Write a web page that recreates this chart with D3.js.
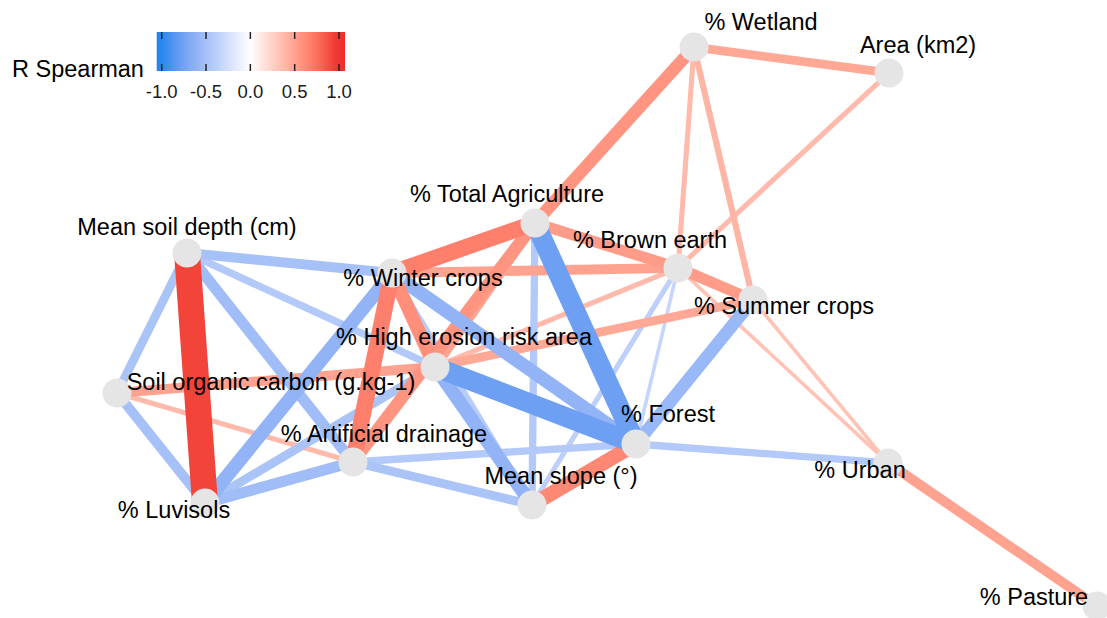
<!DOCTYPE html>
<html><head><meta charset="utf-8">
<script src="https://cdn.jsdelivr.net/npm/d3@7"></script>
<style>html,body{margin:0;padding:0;background:#fff;} svg{display:block;}</style>
</head><body>
<script>
// ---- data ----
const nodeNames = ["% Wetland","Area (km2)","% Total Agriculture","% Brown earth","% Summer crops",
  "Mean soil depth (cm)","% Winter crops","% High erosion risk area","Soil organic carbon (g.kg-1)",
  "% Forest","% Artificial drainage","Mean slope (°)","% Urban","% Luvisols","% Pasture"];
// layout coordinates (MDS dims)
const nodeDim1 = [0.188,0.578,-0.130,0.156,0.306,-0.826,-0.416,-0.330,-0.966,0.072,-0.494,-0.136,0.576,-0.790,0.994];
const nodeDim2 = [0.843,0.757,0.257,0.107,0.000,0.157,0.090,-0.223,-0.310,-0.480,-0.540,-0.683,-0.543,-0.677,-1.020];

const edgeFrom = ["% Wetland","% Wetland","% Wetland","% Wetland","Area (km2)",
 "% Total Agriculture","% Total Agriculture","% Brown earth","% Winter crops","% High erosion risk area",
 "% High erosion risk area","Soil organic carbon (g.kg-1)","Soil organic carbon (g.kg-1)","% Total Agriculture","% Total Agriculture",
 "% Total Agriculture","% Total Agriculture","Mean soil depth (cm)","Mean soil depth (cm)","Mean soil depth (cm)",
 "Mean soil depth (cm)","Mean soil depth (cm)","Soil organic carbon (g.kg-1)","% Luvisols","% Luvisols",
 "% Luvisols","% Artificial drainage","% Artificial drainage","% High erosion risk area","% High erosion risk area",
 "% Winter crops","% Winter crops","% Winter crops","% Winter crops","% Forest",
 "Mean slope (°)","% Forest","% Forest","% Forest","% Brown earth","% Summer crops","% Urban"];
const edgeTo = ["Area (km2)","% Total Agriculture","% Brown earth","% Summer crops","% Brown earth",
 "% Winter crops","% Brown earth","% Summer crops","% Brown earth","% Summer crops",
 "% Brown earth","% High erosion risk area","% Artificial drainage","% Forest","Mean slope (°)",
 "% High erosion risk area","% Artificial drainage","% Luvisols","% Winter crops","% High erosion risk area",
 "Soil organic carbon (g.kg-1)","% Artificial drainage","% Luvisols","% Winter crops","% High erosion risk area",
 "% Artificial drainage","Mean slope (°)","% Forest","% Forest","Mean slope (°)",
 "% Forest","Mean slope (°)","% High erosion risk area","% Artificial drainage","% Brown earth",
 "% Brown earth","% Summer crops","Mean slope (°)","% Urban","% Urban","% Urban","% Pasture"];
const edgeR = [0.47,0.57,0.37,0.40,0.37,
 0.67,0.53,0.53,0.50,0.47,
 0.37,0.50,0.37,-0.77,-0.43,
 0.50,0.57,0.93,-0.50,-0.43,
 -0.47,-0.53,-0.50,-0.60,-0.47,
 -0.53,-0.47,-0.43,-0.77,-0.60,
 -0.60,-0.40,0.60,0.67,-0.33,
 -0.37,-0.57,0.63,-0.43,0.33,0.33,0.50];

const legendTicks = [-1,-0.5,0,0.5,1];
const legendTickLabels = ["-1.0","-0.5","0.0","0.5","1.0"];
const legendTitle = "R Spearman";

// label offsets (layout of repelled labels, px)
const labelDx = [67,29,-28,-28,31,0,31,29,154,32,31,29,-28,-31,-63];
const labelDy = [-25,-28,-29,-28,6,-26,5,-30,-11,-30,-28,-29,7,7,-9];

// ---- drawing ----
const W = 1107, H = 618;
const FONT = "'Liberation Sans', Arial, sans-serif";
const svg = d3.select("body").append("svg").attr("width",W).attr("height",H);
const x = d3.scaleLinear().domain([-1,1]).range([100,1100]);
const y = d3.scaleLinear().domain([-1,1]).range([600,0]);
const color = d3.scaleLinear().domain([-1,0,1]).range(["#1C86EE","#FFFFFF","#EE2C2C"]).interpolate(d3.interpolateLab);
const width = d3.scaleLinear().domain([0.3,1]).range([2.5,28.5]);

const nodes = nodeNames.map((n,i)=>({name:n, x:x(nodeDim1[i]), y:y(nodeDim2[i]), dx:labelDx[i], dy:labelDy[i]}));
const byName = new Map(nodes.map(d=>[d.name,d]));
const edges = edgeR.map((r,i)=>({s:byName.get(edgeFrom[i]), t:byName.get(edgeTo[i]), r}))
  .sort((a,b)=>Math.abs(a.r)-Math.abs(b.r));

svg.append("g").selectAll("line").data(edges).join("line")
  .attr("x1",d=>d.s.x).attr("y1",d=>d.s.y).attr("x2",d=>d.t.x).attr("y2",d=>d.t.y)
  .attr("stroke",d=>color(d.r)).attr("stroke-width",d=>width(Math.abs(d.r)))
  .attr("stroke-linecap","butt");

svg.append("g").selectAll("circle").data(nodes).join("circle")
  .attr("cx",d=>d.x).attr("cy",d=>d.y).attr("r",14.5).attr("fill","#E5E5E5");

svg.append("g").selectAll("text").data(nodes).join("text")
  .attr("x",d=>d.x+d.dx).attr("y",d=>d.y+d.dy)
  .attr("text-anchor","middle").attr("dominant-baseline","central")
  .style("font-family",FONT).style("font-size","23.5px")
  .attr("fill","#000").text(d=>d.name);

// legend
const lg = svg.append("g");
const lx = d3.scaleLinear().domain([-1,1]).range([161.7,339]);
const grad = svg.append("defs").append("linearGradient").attr("id","lgrad")
  .attr("x1","0%").attr("x2","100%");
const barX0 = lx(-1)-5, barX1 = lx(1)+6, barY0 = 32, barY1 = 71;
d3.range(0,1.0001,0.05).forEach(f=>{
  const v = lx.invert(barX0 + f*(barX1-barX0));
  grad.append("stop").attr("offset",(f*100)+"%").attr("stop-color",color(Math.max(-1,Math.min(1,v))));
});
lg.append("rect").attr("x",barX0).attr("y",barY0).attr("width",barX1-barX0).attr("height",barY1-barY0).attr("fill","url(#lgrad)");
lg.selectAll("line.tt").data(legendTicks).join("line").attr("class","tt")
  .attr("x1",d=>lx(d)).attr("x2",d=>lx(d)).attr("y1",barY0).attr("y2",barY0+7)
  .attr("stroke","#222").attr("stroke-width",1.5);
lg.selectAll("line.tb").data(legendTicks).join("line").attr("class","tb")
  .attr("x1",d=>lx(d)).attr("x2",d=>lx(d)).attr("y1",barY1-7).attr("y2",barY1)
  .attr("stroke","#222").attr("stroke-width",1.5);
lg.selectAll("text.tl").data(legendTicks).join("text").attr("class","tl")
  .attr("x",d=>lx(d)).attr("y",91).attr("text-anchor","middle").attr("dominant-baseline","central")
  .style("font-family",FONT).style("font-size","18.5px").attr("fill","#1a1a1a")
  .text((d,i)=>legendTickLabels[i]);
lg.append("text").attr("x",12).attr("y",69).attr("dominant-baseline","central")
  .style("font-family",FONT).style("font-size","23.5px").attr("fill","#000")
  .text(legendTitle);
</script>
</body></html>
